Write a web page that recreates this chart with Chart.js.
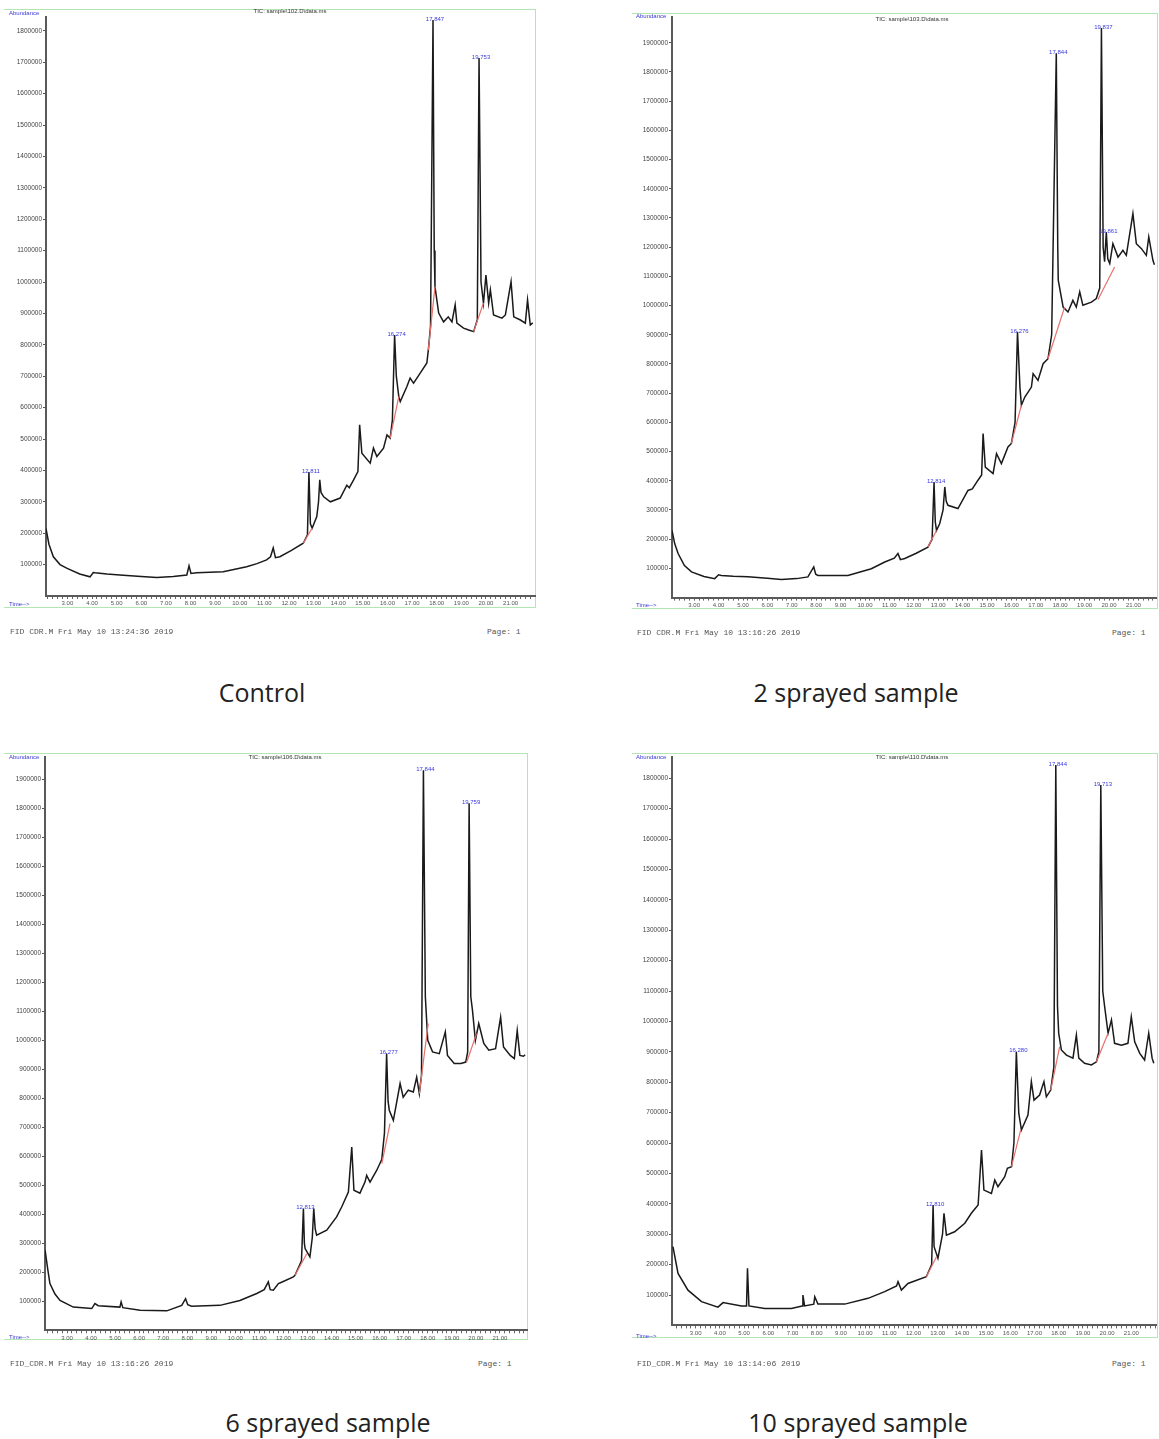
<!DOCTYPE html>
<html>
<head>
<meta charset="utf-8">
<script src="https://cdn.jsdelivr.net/npm/chart.js@4/dist/chart.umd.min.js"></script>
<style>
  html,body{margin:0;padding:0;background:#fff;}
  body{width:1159px;height:1439px;position:relative;overflow:hidden;font-family:"Liberation Sans",Arial,sans-serif;}
  .frame{position:absolute;border-top:1px solid #b3e6b3;border-right:1px solid #b3e6b3;border-bottom:1px solid #b3e6b3;box-sizing:border-box;}
  canvas{position:absolute;}
  .abund,.timel{position:absolute;color:#3a3ad8;font-size:6px;line-height:6px;}
  .title{position:absolute;color:#333;font-size:6px;line-height:6px;}
  .foot{position:absolute;color:#555;font-family:"Liberation Mono","DejaVu Sans Mono",monospace;font-size:8px;line-height:8px;white-space:pre;}
  .caption{position:absolute;font-family:"Open Sans",Lato,sans-serif;font-size:25px;color:#222;transform:translateX(-50%);white-space:nowrap;line-height:30px;}
</style>
</head>
<body>
<script>
// ---------------- DATA ----------------
const sampleNames = ['Control', '2 sprayed sample', '6 sprayed sample', '10 sprayed sample'];
const chartTitles = ['TIC: sample\\102.D\\data.ms', 'TIC: sample\\103.D\\data.ms', 'TIC: sample\\106.D\\data.ms', 'TIC: sample\\110.D\\data.ms'];
const footerTexts = ['FID CDR.M Fri May 10 13:24:36 2019', 'FID CDR.M Fri May 10 13:16:26 2019', 'FID_CDR.M Fri May 10 13:16:26 2019', 'FID_CDR.M Fri May 10 13:14:06 2019'];
const timeTickLabels = ['3.00','4.00','5.00','6.00','7.00','8.00','9.00','10.00','11.00','12.00','13.00','14.00','15.00','16.00','17.00','18.00','19.00','20.00','21.00'];
const abundanceTickLabels = ['100000','200000','300000','400000','500000','600000','700000','800000','900000','1000000','1100000','1200000','1300000','1400000','1500000','1600000','1700000','1800000','1900000'];

// Control
const controlTime = [2.13,2.25,2.43,2.70,2.99,3.50,3.92,4.05,4.12,4.60,5.27,6.00,6.63,7.30,7.85,7.94,8.02,8.25,9.33,10.28,10.70,11.09,11.25,11.36,11.45,11.63,12.10,12.58,12.75,12.81,12.87,12.94,13.13,13.20,13.25,13.30,13.41,13.68,14.08,14.35,14.45,14.62,14.80,14.87,14.96,15.30,15.43,15.57,15.84,15.98,16.11,16.20,16.29,16.36,16.46,16.52,16.79,16.92,17.06,17.33,17.60,17.66,17.75,17.85,17.90,17.93,18.08,18.28,18.47,18.62,18.75,18.82,19.09,19.30,19.50,19.65,19.72,19.80,19.90,20.00,20.11,20.18,20.31,20.65,20.79,21.02,21.13,21.40,21.60,21.69,21.80,21.90];
const controlAbund = [215000,165000,125000,100000,88000,70000,61000,75000,74000,70000,66000,62000,59000,62000,67000,96000,72000,74000,77000,93000,103000,115000,125000,153000,122000,125000,145000,168000,195000,395000,230000,216000,253000,300000,370000,330000,316000,300000,312000,353000,345000,369000,396000,545000,455000,423000,471000,444000,471000,513000,503000,560000,831000,700000,635000,619000,667000,694000,678000,710000,742000,783000,860000,1834000,1100000,985000,901000,873000,889000,873000,927000,869000,853000,847000,842000,880000,1713000,1000000,933000,1022000,933000,975000,895000,885000,895000,1001000,889000,879000,869000,943000,863000,870000];
const controlPeakTime = [12.81, 16.29, 17.85, 19.72];
const controlPeakAbund = [395000, 831000, 1834000, 1713000];
const controlPeakLabel = ['12.811', '16.274', '17.847', '19.753'];
const controlBaseline = [[12.58,168000,12.94,216000],[16.11,503000,16.46,635000],[17.66,783000,17.93,985000],[19.50,842000,19.90,933000]];

// 2 sprayed
const spray2Time = [2.09,2.20,2.34,2.60,2.89,3.40,3.84,4.00,4.11,4.60,5.20,6.00,6.57,7.20,7.66,7.90,7.98,8.07,9.30,10.26,10.81,11.20,11.35,11.45,11.63,12.10,12.58,12.75,12.83,12.88,12.93,13.06,13.20,13.27,13.33,13.40,13.81,14.22,14.40,14.63,14.78,14.84,14.93,15.25,15.39,15.59,15.86,16.00,16.15,16.25,16.35,16.41,16.55,16.82,16.89,17.09,17.30,17.50,17.65,17.84,17.90,17.92,18.12,18.32,18.52,18.66,18.80,18.93,19.28,19.48,19.62,19.69,19.76,19.82,19.89,19.95,20.03,20.16,20.37,20.57,20.71,20.98,21.12,21.33,21.53,21.63,21.80,21.86];
const spray2Abund = [230000,185000,151000,110000,88000,72000,65000,78000,76000,73000,71000,66000,62000,65000,71000,105000,80000,76000,76000,99000,122000,135000,151000,130000,134000,152000,173000,200000,396000,260000,230000,253000,300000,379000,330000,316000,305000,367000,372000,402000,420000,562000,447000,425000,493000,459000,516000,528000,600000,910000,720000,659000,687000,721000,767000,744000,801000,818000,900000,1864000,1200000,1087000,995000,978000,1018000,995000,1047000,1001000,1012000,1024000,1060000,1951000,1200000,1150000,1252000,1160000,1144000,1212000,1166000,1189000,1172000,1315000,1212000,1195000,1172000,1235000,1155000,1140000];
const spray2PeakTime = [12.83, 16.25, 17.84, 19.69, 19.89];
const spray2PeakAbund = [396000, 910000, 1864000, 1951000, 1252000];
const spray2PeakLabel = ['12.814', '16.276', '17.844', '19.837', '19.861'];
const spray2Baseline = [[12.58,173000,12.93,230000],[16.00,528000,16.41,659000],[17.50,818000,18.18,995000],[19.55,1021000,20.23,1132000]];

// 6 sprayed
const spray6Time = [2.09,2.20,2.29,2.50,2.71,3.26,4.03,4.16,4.30,5.20,5.25,5.32,6.04,7.15,7.77,7.93,8.02,8.18,9.36,10.19,10.89,11.20,11.37,11.45,11.58,11.79,11.90,12.41,12.48,12.75,12.83,12.87,12.90,13.10,13.20,13.26,13.32,13.38,13.80,14.21,14.42,14.70,14.84,14.93,15.18,15.39,15.46,15.60,15.88,16.01,16.09,16.20,16.29,16.35,16.40,16.57,16.85,16.98,17.19,17.40,17.54,17.65,17.74,17.82,17.90,18.00,18.20,18.48,18.73,18.82,19.10,19.38,19.58,19.66,19.72,19.79,19.86,19.98,20.12,20.33,20.54,20.82,21.03,21.15,21.43,21.60,21.72,21.83,21.98,22.05];
const spray6Abund = [276000,210000,161000,125000,103000,80000,75000,92000,85000,80000,98000,78000,69000,67000,86000,109000,88000,83000,86000,103000,127000,140000,167000,140000,138000,161000,165000,184000,190000,240000,420000,300000,282000,253000,320000,420000,350000,328000,345000,391000,425000,477000,632000,483000,473000,511000,534000,511000,552000,575000,590000,680000,954000,790000,759000,724000,851000,804000,828000,822000,873000,816000,880000,1931000,1150000,1000000,960000,954000,1029000,948000,920000,920000,925000,960000,1817000,1150000,1103000,1000000,1058000,989000,966000,971000,1080000,977000,948000,937000,1034000,948000,945000,950000];
const spray6PeakTime = [12.83, 16.29, 17.82, 19.72];
const spray6PeakAbund = [420000, 954000, 1931000, 1817000];
const spray6PeakLabel = ['12.813', '16.277', '17.844', '19.759'];
const spray6Baseline = [[12.48,190000,12.97,264000],[16.09,575000,16.43,713000],[17.65,816000,18.02,1058000],[19.62,925000,20.03,1023000]];

// 10 sprayed
const spray10Time = [2.06,2.27,2.68,3.24,3.92,4.13,4.89,5.10,5.14,5.20,5.85,6.95,7.40,7.43,7.50,7.88,7.92,8.05,9.16,10.12,10.81,11.30,11.36,11.50,11.77,12.53,12.75,12.81,12.85,13.01,13.20,13.26,13.36,13.70,14.12,14.39,14.67,14.81,14.91,15.22,15.36,15.49,15.77,15.88,16.05,16.15,16.25,16.35,16.46,16.73,16.87,16.98,17.21,17.39,17.49,17.67,17.80,17.88,17.95,18.00,18.11,18.32,18.59,18.73,18.83,19.07,19.35,19.56,19.66,19.74,19.82,19.90,20.04,20.18,20.31,20.59,20.86,21.00,21.14,21.35,21.55,21.72,21.86,21.93];
const spray10Abund = [259000,171000,116000,78000,60000,75000,64000,64000,188000,64000,56000,56000,64000,100000,64000,70000,94000,70000,70000,89000,111000,130000,144000,116000,138000,160000,200000,396000,259000,221000,300000,369000,297000,308000,336000,369000,396000,577000,445000,434000,478000,456000,489000,517000,522000,600000,900000,698000,643000,692000,802000,741000,758000,802000,752000,774000,850000,1843000,1050000,961000,906000,889000,879000,955000,879000,862000,857000,867000,900000,1778000,1100000,1048000,961000,1005000,928000,922000,928000,1015000,933000,895000,873000,961000,879000,862000];
const spray10PeakTime = [12.81, 16.25, 17.88, 19.74];
const spray10PeakAbund = [396000, 900000, 1843000, 1778000];
const spray10PeakLabel = ['12.810', '16.280', '17.844', '19.713'];
const spray10Baseline = [[12.53,160000,12.95,226000],[16.05,522000,16.43,643000],[17.67,774000,18.04,917000],[19.56,867000,20.04,961000]];

// ---------------- LAYOUT (pixels) ----------------
const panels = [
  {t:controlTime, v:controlAbund, pt:controlPeakTime, pv:controlPeakAbund, pl:controlPeakLabel, base:controlBaseline,
   L:46, T:17, R:535, B:596, x3:67.4, k:24.62, py:31.4, frame:[4,9,536,608], abund:[9,10], timel:[9,601], title:[290,8], foot:[10,628], page:[487,628], cap:[262,677]},
  {t:spray2Time, v:spray2Abund, pt:spray2PeakTime, pv:spray2PeakAbund, pl:spray2PeakLabel, base:spray2Baseline,
   L:672.3, T:16.7, R:1157, B:597.3, x3:694.5, k:24.4, py:29.2, frame:[632,13,1158,609], abund:[636,13], timel:[636,602], title:[912,16], foot:[637,629], page:[1112,629], cap:[856,677]},
  {t:spray6Time, v:spray6Abund, pt:spray6PeakTime, pv:spray6PeakAbund, pl:spray6PeakLabel, base:spray6Baseline,
   L:45, T:756.7, R:527, B:1330, x3:67, k:24.05, py:29.0, frame:[4,753,528,1340], abund:[9,754], timel:[9,1334], title:[285,754], foot:[10,1360], page:[478,1360], cap:[328,1407]},
  {t:spray10Time, v:spray10Abund, pt:spray10PeakTime, pv:spray10PeakAbund, pl:spray10PeakLabel, base:spray10Baseline,
   L:672.3, T:757, R:1157, B:1325.4, x3:696, k:24.2, py:30.4, frame:[632,753,1158,1338], abund:[636,754], timel:[636,1333], title:[912,754], foot:[637,1360], page:[1112,1360], cap:[858,1407]}
];

function el(cls, text, x, y) {
  const d = document.createElement('div');
  d.className = cls; d.textContent = text;
  d.style.left = x + 'px'; d.style.top = y + 'px';
  document.body.appendChild(d); return d;
}

const peakLabelPlugin = {
  id: 'peakLabels',
  afterDatasetsDraw(chart, args, opts) {
    const ctx = chart.ctx, xs = chart.scales.x, ys = chart.scales.y;
    ctx.save();
    ctx.fillStyle = '#3a3ae0';
    ctx.font = '6px "Liberation Sans", Arial, sans-serif';
    ctx.textAlign = 'center';
    ctx.textBaseline = 'middle';
    opts.times.forEach((t, i) => {
      const x = xs.getPixelForValue(t), y = ys.getPixelForValue(opts.values[i]);
      ctx.fillText(opts.labels[i], x + 2, y - 1);
    });
    ctx.restore();
  }
};

panels.forEach((p, idx) => {
  const f = document.createElement('div');
  f.className = 'frame';
  f.style.left = p.frame[0] + 'px'; f.style.top = p.frame[1] + 'px';
  f.style.width = (p.frame[2] - p.frame[0]) + 'px'; f.style.height = (p.frame[3] - p.frame[1]) + 'px';
  document.body.appendChild(f);

  const cx = p.L - 50, cy = p.T - 10, cw = Math.round((p.R - cx) + 6), ch = Math.round((p.B - cy) + 18);
  const cv = document.createElement('canvas');
  cv.width = cw; cv.height = ch;
  cv.style.left = cx + 'px'; cv.style.top = cy + 'px';
  cv.style.width = cw + 'px'; cv.style.height = ch + 'px';
  document.body.appendChild(cv);

  const YW = 40, XH = 12;
  const xmin = 3 + (p.L - p.x3) / p.k;
  const xmax = 3 + (p.R - p.x3) / p.k;
  const ymax = (p.B - p.T) / p.py * 100000;

  const datasets = [];
  p.base.forEach(b => datasets.push({
    data: [{x: b[0], y: b[1]}, {x: b[2], y: b[3]}],
    borderColor: '#e6706c', borderWidth: 1.2, pointRadius: 0, tension: 0
  }));
  datasets.push({
    data: p.t.map((t, i) => ({x: t, y: p.v[i]})),
    borderColor: '#1a1a1a', borderWidth: 1.5, pointRadius: 0, tension: 0
  });

  new Chart(cv, {
    type: 'line',
    data: {datasets},
    plugins: [peakLabelPlugin],
    options: {
      responsive: false, animation: false, devicePixelRatio: 1,
      layout: {autoPadding: false, padding: {left: p.L - cx - YW, top: p.T - cy, right: cx + cw - p.R, bottom: cy + ch - p.B - XH}},
      plugins: {legend: {display: false}, tooltip: {enabled: false},
        peakLabels: {times: p.pt, values: p.pv, labels: p.pl}},
      scales: {
        x: {
          type: 'linear', min: xmin, max: xmax,
          afterFit: s => { s.height = XH; },
          afterBuildTicks: s => {
            const ticks = [];
            for (let i = Math.ceil(xmin * 5); i <= Math.floor(xmax * 5); i++) ticks.push({value: i / 5});
            s.ticks = ticks;
          },
          grid: {drawOnChartArea: false, drawTicks: true, tickLength: 3, color: '#666', lineWidth: 1},
          border: {display: true, color: '#5a5a5a', width: 2},
          ticks: {
            autoSkip: false, maxRotation: 0, padding: 1, color: '#555',
            font: {size: 6, family: '"Liberation Sans", Arial, sans-serif'},
            callback: v => {
              const r = Math.round(v);
              if (Math.abs(v - r) > 1e-6) return '';
              const i = r - 3;
              return (i >= 0 && i < timeTickLabels.length) ? timeTickLabels[i] : '';
            }
          }
        },
        y: {
          type: 'linear', min: 0, max: ymax,
          afterFit: s => { s.width = YW; },
          afterBuildTicks: s => {
            const ticks = [];
            for (let i = 1; i * 100000 <= ymax; i++) ticks.push({value: i * 100000});
            s.ticks = ticks;
          },
          grid: {drawOnChartArea: false, drawTicks: true, tickLength: 3, color: '#555', lineWidth: 1},
          border: {display: true, color: '#5a5a5a', width: 2},
          ticks: {
            padding: 1, color: '#444',
            font: {size: 6.5, family: '"Liberation Sans", Arial, sans-serif'},
            callback: v => {
              const i = Math.round(v / 100000) - 1;
              return (i >= 0 && i < abundanceTickLabels.length) ? abundanceTickLabels[i] : '';
            }
          }
        }
      }
    }
  });

  el('abund', 'Abundance', p.abund[0], p.abund[1]);
  el('timel', 'Time-->', p.timel[0], p.timel[1]);
  const tt = el('title', chartTitles[idx], p.title[0], p.title[1]);
  tt.style.transform = 'translateX(-50%)';
  el('foot', footerTexts[idx], p.foot[0], p.foot[1]);
  el('foot', 'Page: 1', p.page[0], p.page[1]);
  el('caption', sampleNames[idx], p.cap[0], p.cap[1]);
});
</script>
</body>
</html>
